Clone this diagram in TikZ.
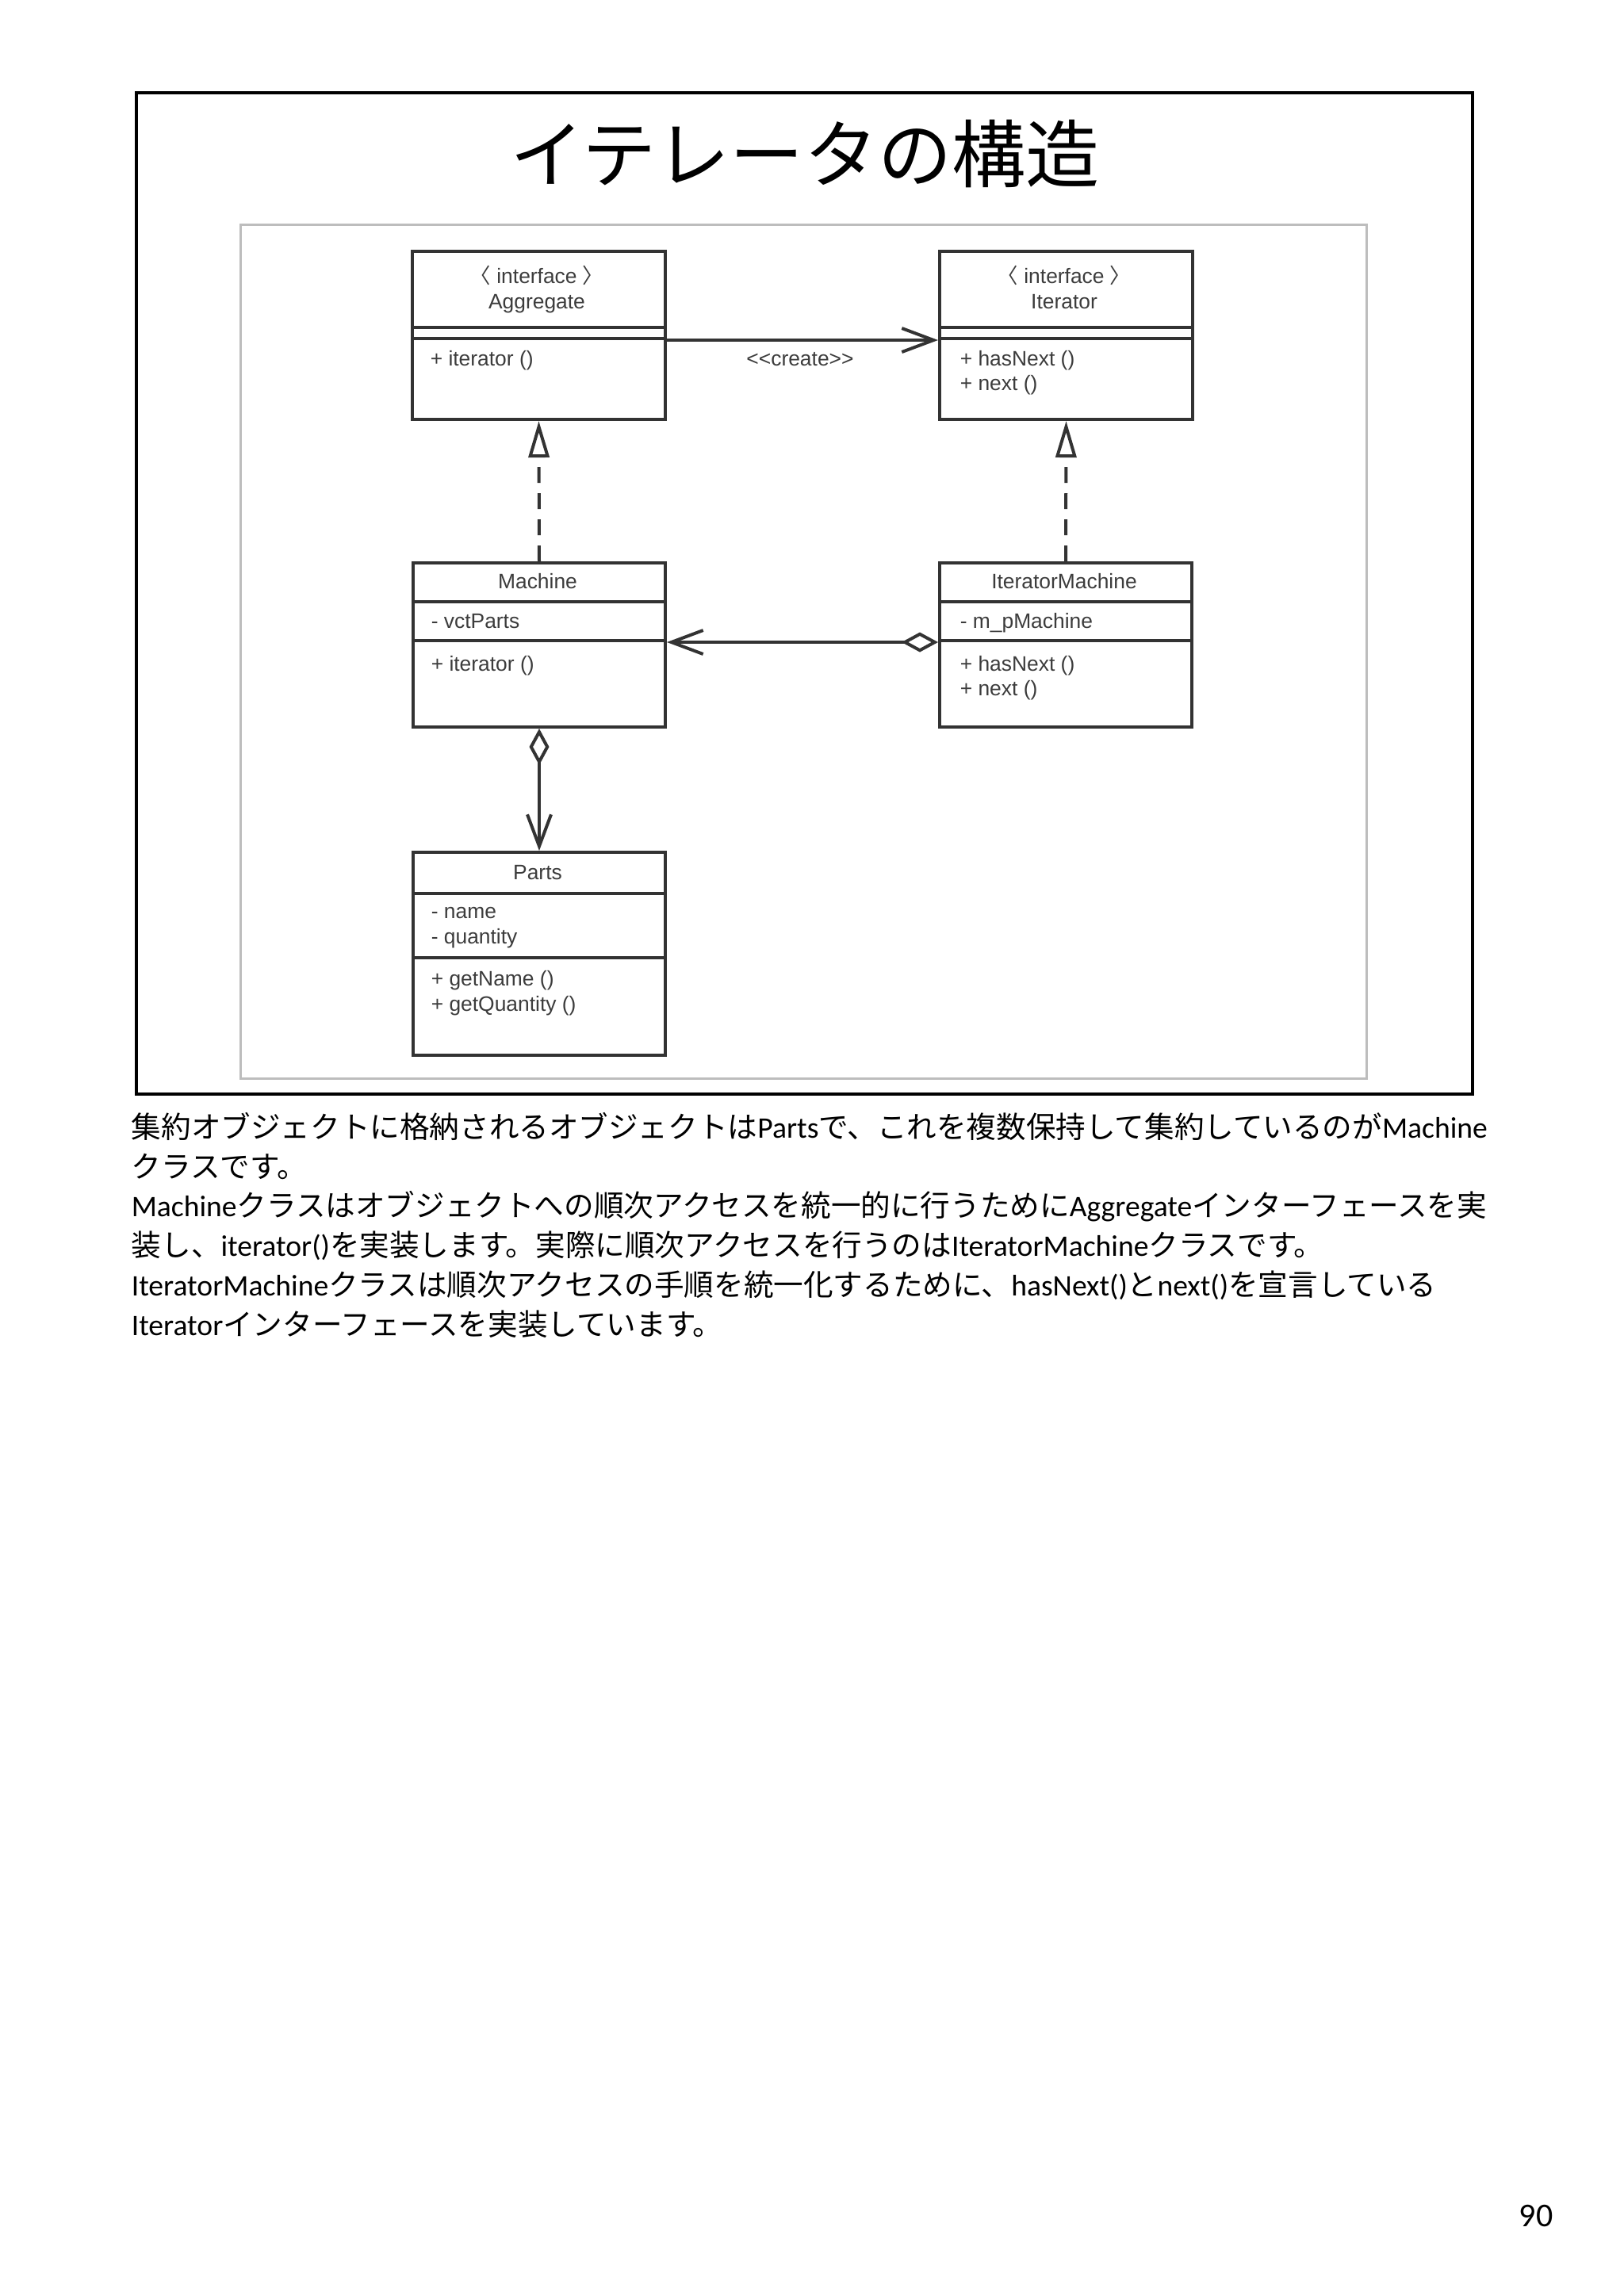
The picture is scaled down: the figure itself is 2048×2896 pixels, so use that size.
\documentclass[tikz,border=0pt]{standalone}
\usepackage{fontspec}
\setmainfont{Liberation Sans}
\newfontfamily\jpfont{Noto Sans CJK JP}
\newfontfamily\latfont{Carlito}
\newcommand\lat[1]{{\latfont #1}}
\usetikzlibrary{arrows.meta}
\newdimen\px \px=0.25pt
\definecolor{umlgray}{HTML}{333333}
\definecolor{umltxt}{HTML}{3C3C3C}
\definecolor{framegray}{HTML}{BDBDBD}
\tikzset{
    umlbox/.style={draw=umlgray, line width=1pt, rectangle, inner sep=0pt, anchor=north west},
    umltext/.style={text=umltxt, font=\fontsize{6.6}{8}\selectfont, inner sep=0pt, anchor=base},
    member/.style={umltext, anchor=base west},
    umlline/.style={draw=umlgray, line width=1pt},
    realize/.style={umlline, dash pattern=on 5pt off 3.25pt, -{Triangle[open, length=11.5pt, width=6.5pt]}},
    assoc/.style={umlline, -{Straight Barb[length=10pt, width=7.5pt]}},
    aggr/.style={umlline, {Diamond[open, length=11.5pt, width=6.25pt]}-{Straight Barb[length=10pt, width=7.5pt]}},
    jptext/.style={font=\jpfont\fontsize{9.4}{12}\selectfont, inner sep=0pt, anchor=base west}
}
\begin{document}
\begin{tikzpicture}[x=0.25pt, y=-0.25pt]
    \useasboundingbox[fill=white] (0,0) rectangle (2048,2896);
    % frames
    \draw[line width=1pt] (172,117) rectangle (1857,1380);
    \draw[framegray, line width=0.75pt] (303,283) rectangle (1723,1360);
    \node[font=\jpfont\fontsize{23.3}{28}\selectfont, inner sep=0pt] (title) at (1015,194) {イテレータの構造};

    % Aggregate
    \node[umlbox, minimum width=319\px, minimum height=212\px] (agg) at (518,315) {};
    \draw[umlline] (agg.west |- 0,413) -- (agg.east |- 0,413);
    \draw[umlline] (agg.west |- 0,427) -- (agg.east |- 0,427);
    \node[umltext] (aggst) at (677,357) {{\jpfont 〈} interface {\jpfont 〉}};
    \node[umltext] (aggname) at (677,389) {Aggregate};
    \node[member] (aggop) at (542,461) {+ iterator ()};

    % Iterator
    \node[umlbox, minimum width=319\px, minimum height=212\px] (itr) at (1183,315) {};
    \draw[umlline] (itr.west |- 0,413) -- (itr.east |- 0,413);
    \draw[umlline] (itr.west |- 0,427) -- (itr.east |- 0,427);
    \node[umltext] (itrst) at (1342,357) {{\jpfont 〈} interface {\jpfont 〉}};
    \node[umltext] (itrname) at (1342,389) {Iterator};
    \node[member] (itrop1) at (1210,461) {+ hasNext ()};
    \node[member] (itrop2) at (1210,492) {+ next ()};

    % Machine
    \node[umlbox, minimum width=318\px, minimum height=207\px] (mach) at (519,708) {};
    \draw[umlline] (mach.west |- 0,759) -- (mach.east |- 0,759);
    \draw[umlline] (mach.west |- 0,808) -- (mach.east |- 0,808);
    \node[umltext] (machname) at (678,742) {Machine};
    \node[member] (machat) at (543,792) {- vctParts};
    \node[member] (machop) at (543,846) {+ iterator ()};

    % IteratorMachine
    \node[umlbox, minimum width=318\px, minimum height=207\px] (itm) at (1183,708) {};
    \draw[umlline] (itm.west |- 0,759) -- (itm.east |- 0,759);
    \draw[umlline] (itm.west |- 0,808) -- (itm.east |- 0,808);
    \node[umltext] (itmname) at (1342,742) {IteratorMachine};
    \node[member] (itmat) at (1210,792) {- m\_pMachine};
    \node[member] (itmop1) at (1210,846) {+ hasNext ()};
    \node[member] (itmop2) at (1210,877) {+ next ()};

    % Parts
    \node[umlbox, minimum width=318\px, minimum height=256\px] (parts) at (519,1073) {};
    \draw[umlline] (parts.west |- 0,1127) -- (parts.east |- 0,1127);
    \draw[umlline] (parts.west |- 0,1208) -- (parts.east |- 0,1208);
    \node[umltext] (partsname) at (678,1109) {Parts};
    \node[member] (partsat1) at (543,1158) {- name};
    \node[member] (partsat2) at (543,1190) {- quantity};
    \node[member] (partsop1) at (543,1243) {+ getName ()};
    \node[member] (partsop2) at (543,1275) {+ getQuantity ()};

    % connectors
    \draw[assoc] ([yshift=-1.5pt]agg.east) -- ([yshift=-1.5pt]itr.west);
    \node[umltext, anchor=center] (create) at (1009,453) {<{}<create>{}>};
    \draw[realize] (mach.north) -- (agg.south);
    \draw[realize] (itm.north) -- (itr.south);
    \draw[aggr] ([yshift=0.875pt]itm.west) -- ([yshift=0.875pt]mach.east);
    \draw[aggr] (mach.south) -- (parts.north);

    % description
    \node[jptext] (l1) at (165,1435) {集約オブジェクトに格納されるオブジェクトは\lat{Parts}で、これを複数保持して集約しているのが\lat{Machine}};
    \node[jptext] (l2) at (165,1485) {クラスです。};
    \node[jptext] (l3) at (165,1534) {\lat{Machine}クラスはオブジェクトへの順次アクセスを統一的に行うために\lat{Aggregate}インターフェースを実};
    \node[jptext] (l4) at (165,1584) {装し、\lat{iterator()}を実装します。実際に順次アクセスを行うのは\lat{IteratorMachine}クラスです。};
    \node[jptext] (l5) at (165,1634) {\lat{IteratorMachine}クラスは順次アクセスの手順を統一化するために、\lat{hasNext()}と\lat{next()}を宣言している};
    \node[jptext] (l6) at (165,1684) {\lat{Iterator}インターフェースを実装しています。};

    \node[font=\latfont\fontsize{10.5}{12}\selectfont, inner sep=0pt] (pagenum) at (1937,2795) {90};
\end{tikzpicture}
\end{document}
